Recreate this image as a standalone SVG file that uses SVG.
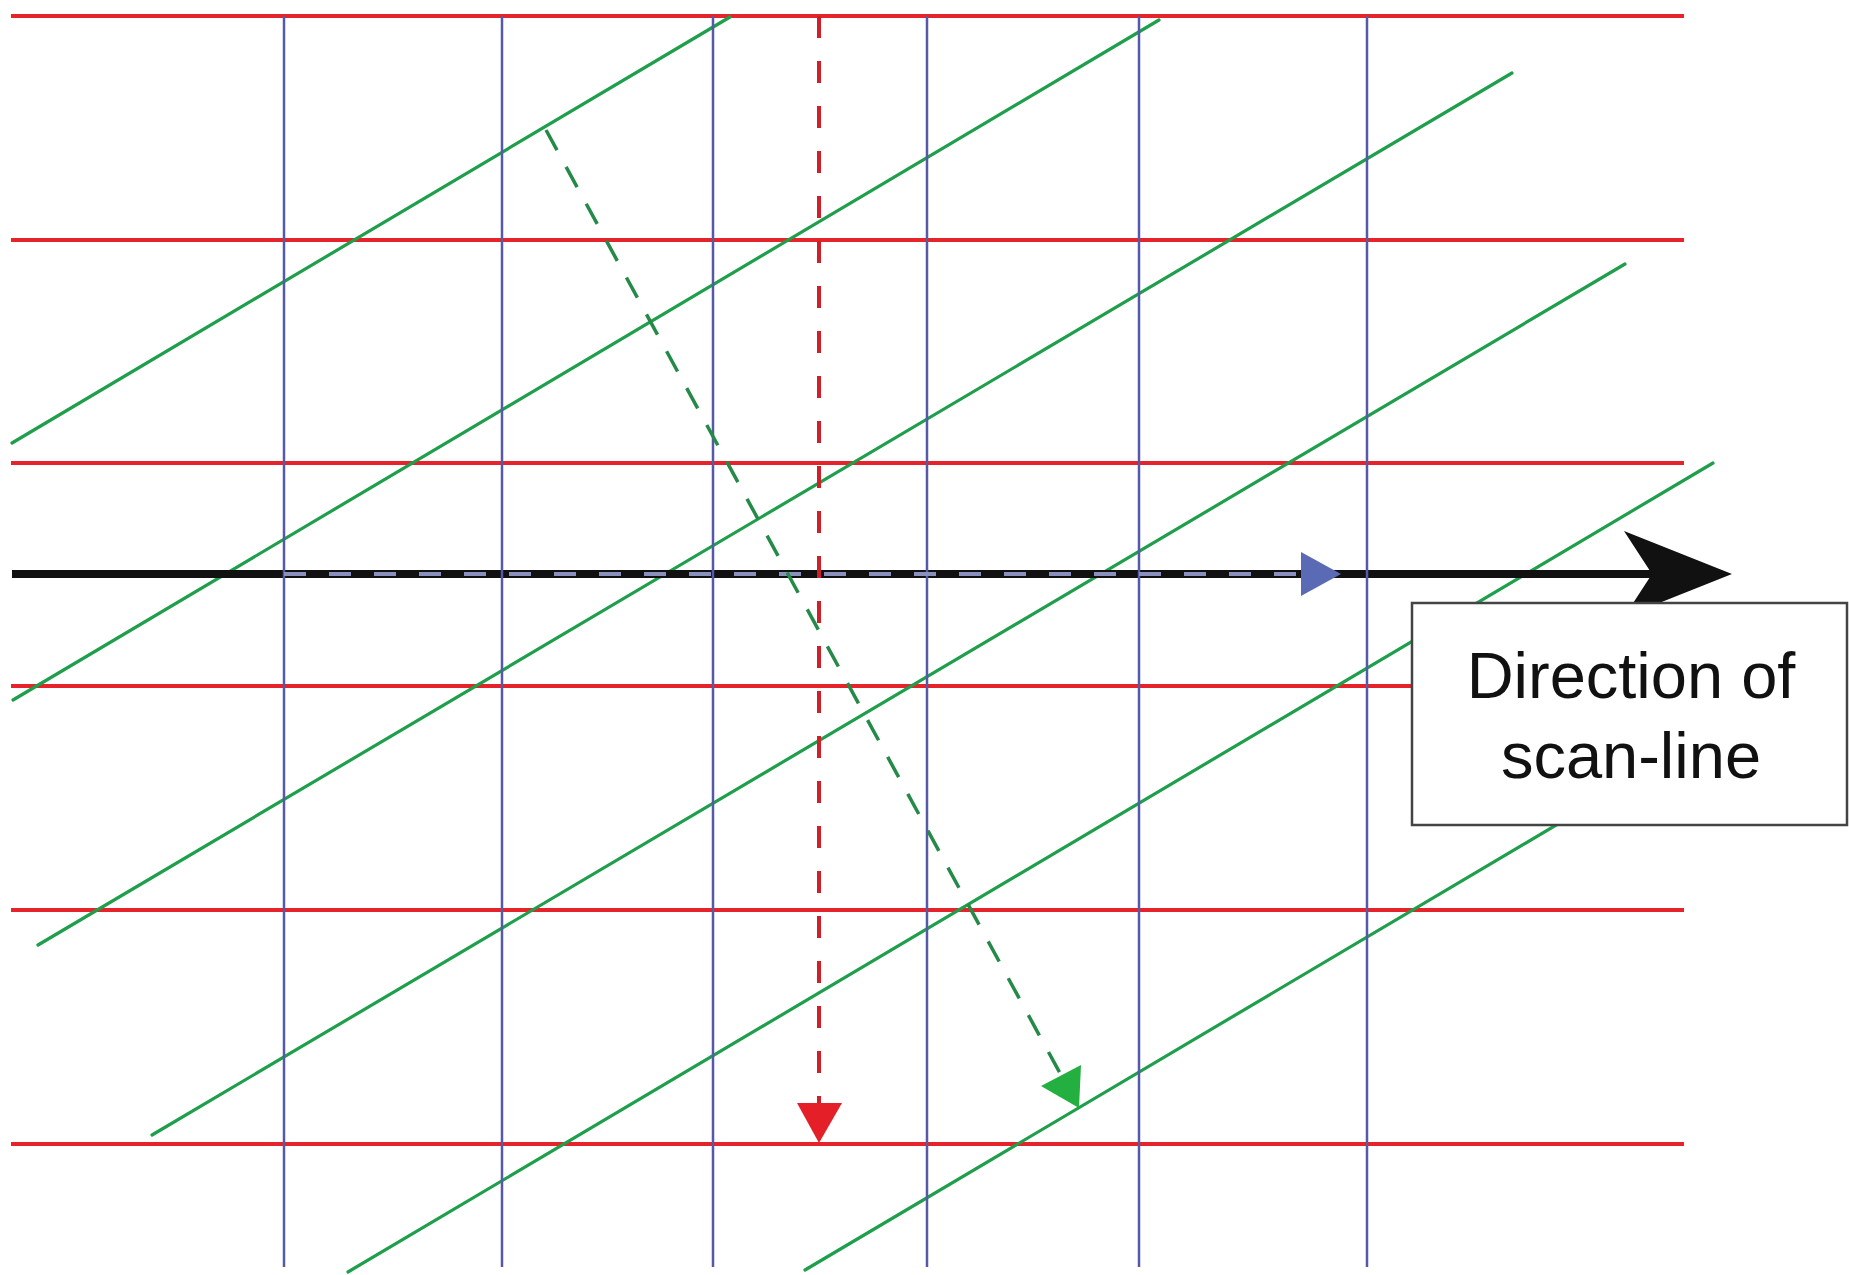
<svg xmlns="http://www.w3.org/2000/svg" width="1849" height="1275" viewBox="0 0 1849 1275">
<style>
.red{stroke:#e6232b;stroke-width:4;fill:none}
.blue{stroke:#5659a8;stroke-width:2.5;fill:none}
.green{stroke:#1f9e4c;stroke-width:3.2;fill:none;stroke-linecap:round}
.label{font-family:"Liberation Sans",Arial,sans-serif;font-size:65px;fill:#111;text-anchor:middle}
</style>
<rect x="0" y="0" width="1849" height="1275" fill="#ffffff"/>
<g id="red-lines">
<line class="red" x1="11" y1="16" x2="1684" y2="16"/>
<line class="red" x1="11" y1="240" x2="1684" y2="240"/>
<line class="red" x1="11" y1="463" x2="1684" y2="463"/>
<line class="red" x1="11" y1="686" x2="1684" y2="686"/>
<line class="red" x1="11" y1="910" x2="1684" y2="910"/>
<line class="red" x1="11" y1="1144" x2="1684" y2="1144"/>
</g>
<g id="green-lines">
<line class="green" x1="12" y1="443" x2="730" y2="17"/>
<line class="green" x1="13" y1="700" x2="1159" y2="20"/>
<line class="green" x1="38" y1="945" x2="1512" y2="73"/>
<line class="green" x1="152" y1="1135" x2="1625" y2="264"/>
<line class="green" x1="348" y1="1272" x2="1713" y2="463"/>
<line class="green" x1="805" y1="1270" x2="1600" y2="799"/>
</g>
<g id="scan-line-arrow">
<line x1="12" y1="574" x2="1655" y2="574" stroke="#111" stroke-width="8"/>
<polygon points="1732,574 1624,531 1652,574 1624,617" fill="#111"/>
</g>
<g id="blue-lines">
<line class="blue" x1="284" y1="16" x2="284" y2="1267"/>
<line class="blue" x1="502" y1="16" x2="502" y2="1267"/>
<line class="blue" x1="713" y1="16" x2="713" y2="1267"/>
<line class="blue" x1="927" y1="16" x2="927" y2="1267"/>
<line class="blue" x1="1139" y1="16" x2="1139" y2="1267"/>
<line class="blue" x1="1367" y1="16" x2="1367" y2="1267"/>
</g>
<g id="connectors">
<line x1="284" y1="574" x2="1302" y2="574" stroke="#8a90bc" stroke-width="4" stroke-dasharray="22 23"/>
<polygon points="1301,552 1341,574 1301,596" fill="#5b6ab4"/>
<line x1="819" y1="16" x2="819" y2="1104" stroke="#cf1f29" stroke-width="4" stroke-dasharray="22 23"/>
<polygon points="797,1103 842,1103 819,1143" fill="#e51f27"/>
<line x1="546" y1="130" x2="1061" y2="1075" stroke="#258a48" stroke-width="3.5" stroke-dasharray="23 19"/>
<polygon points="1079,1108 1041,1086 1081,1065" fill="#23b041"/>
</g>
<g id="label-box">
<rect x="1412" y="603" width="435" height="222" fill="#ffffff" stroke="#444" stroke-width="2.5"/>
<text class="label" x="1631" y="698">Direction of</text>
<text class="label" x="1631" y="778">scan-line</text>
</g>
</svg>
